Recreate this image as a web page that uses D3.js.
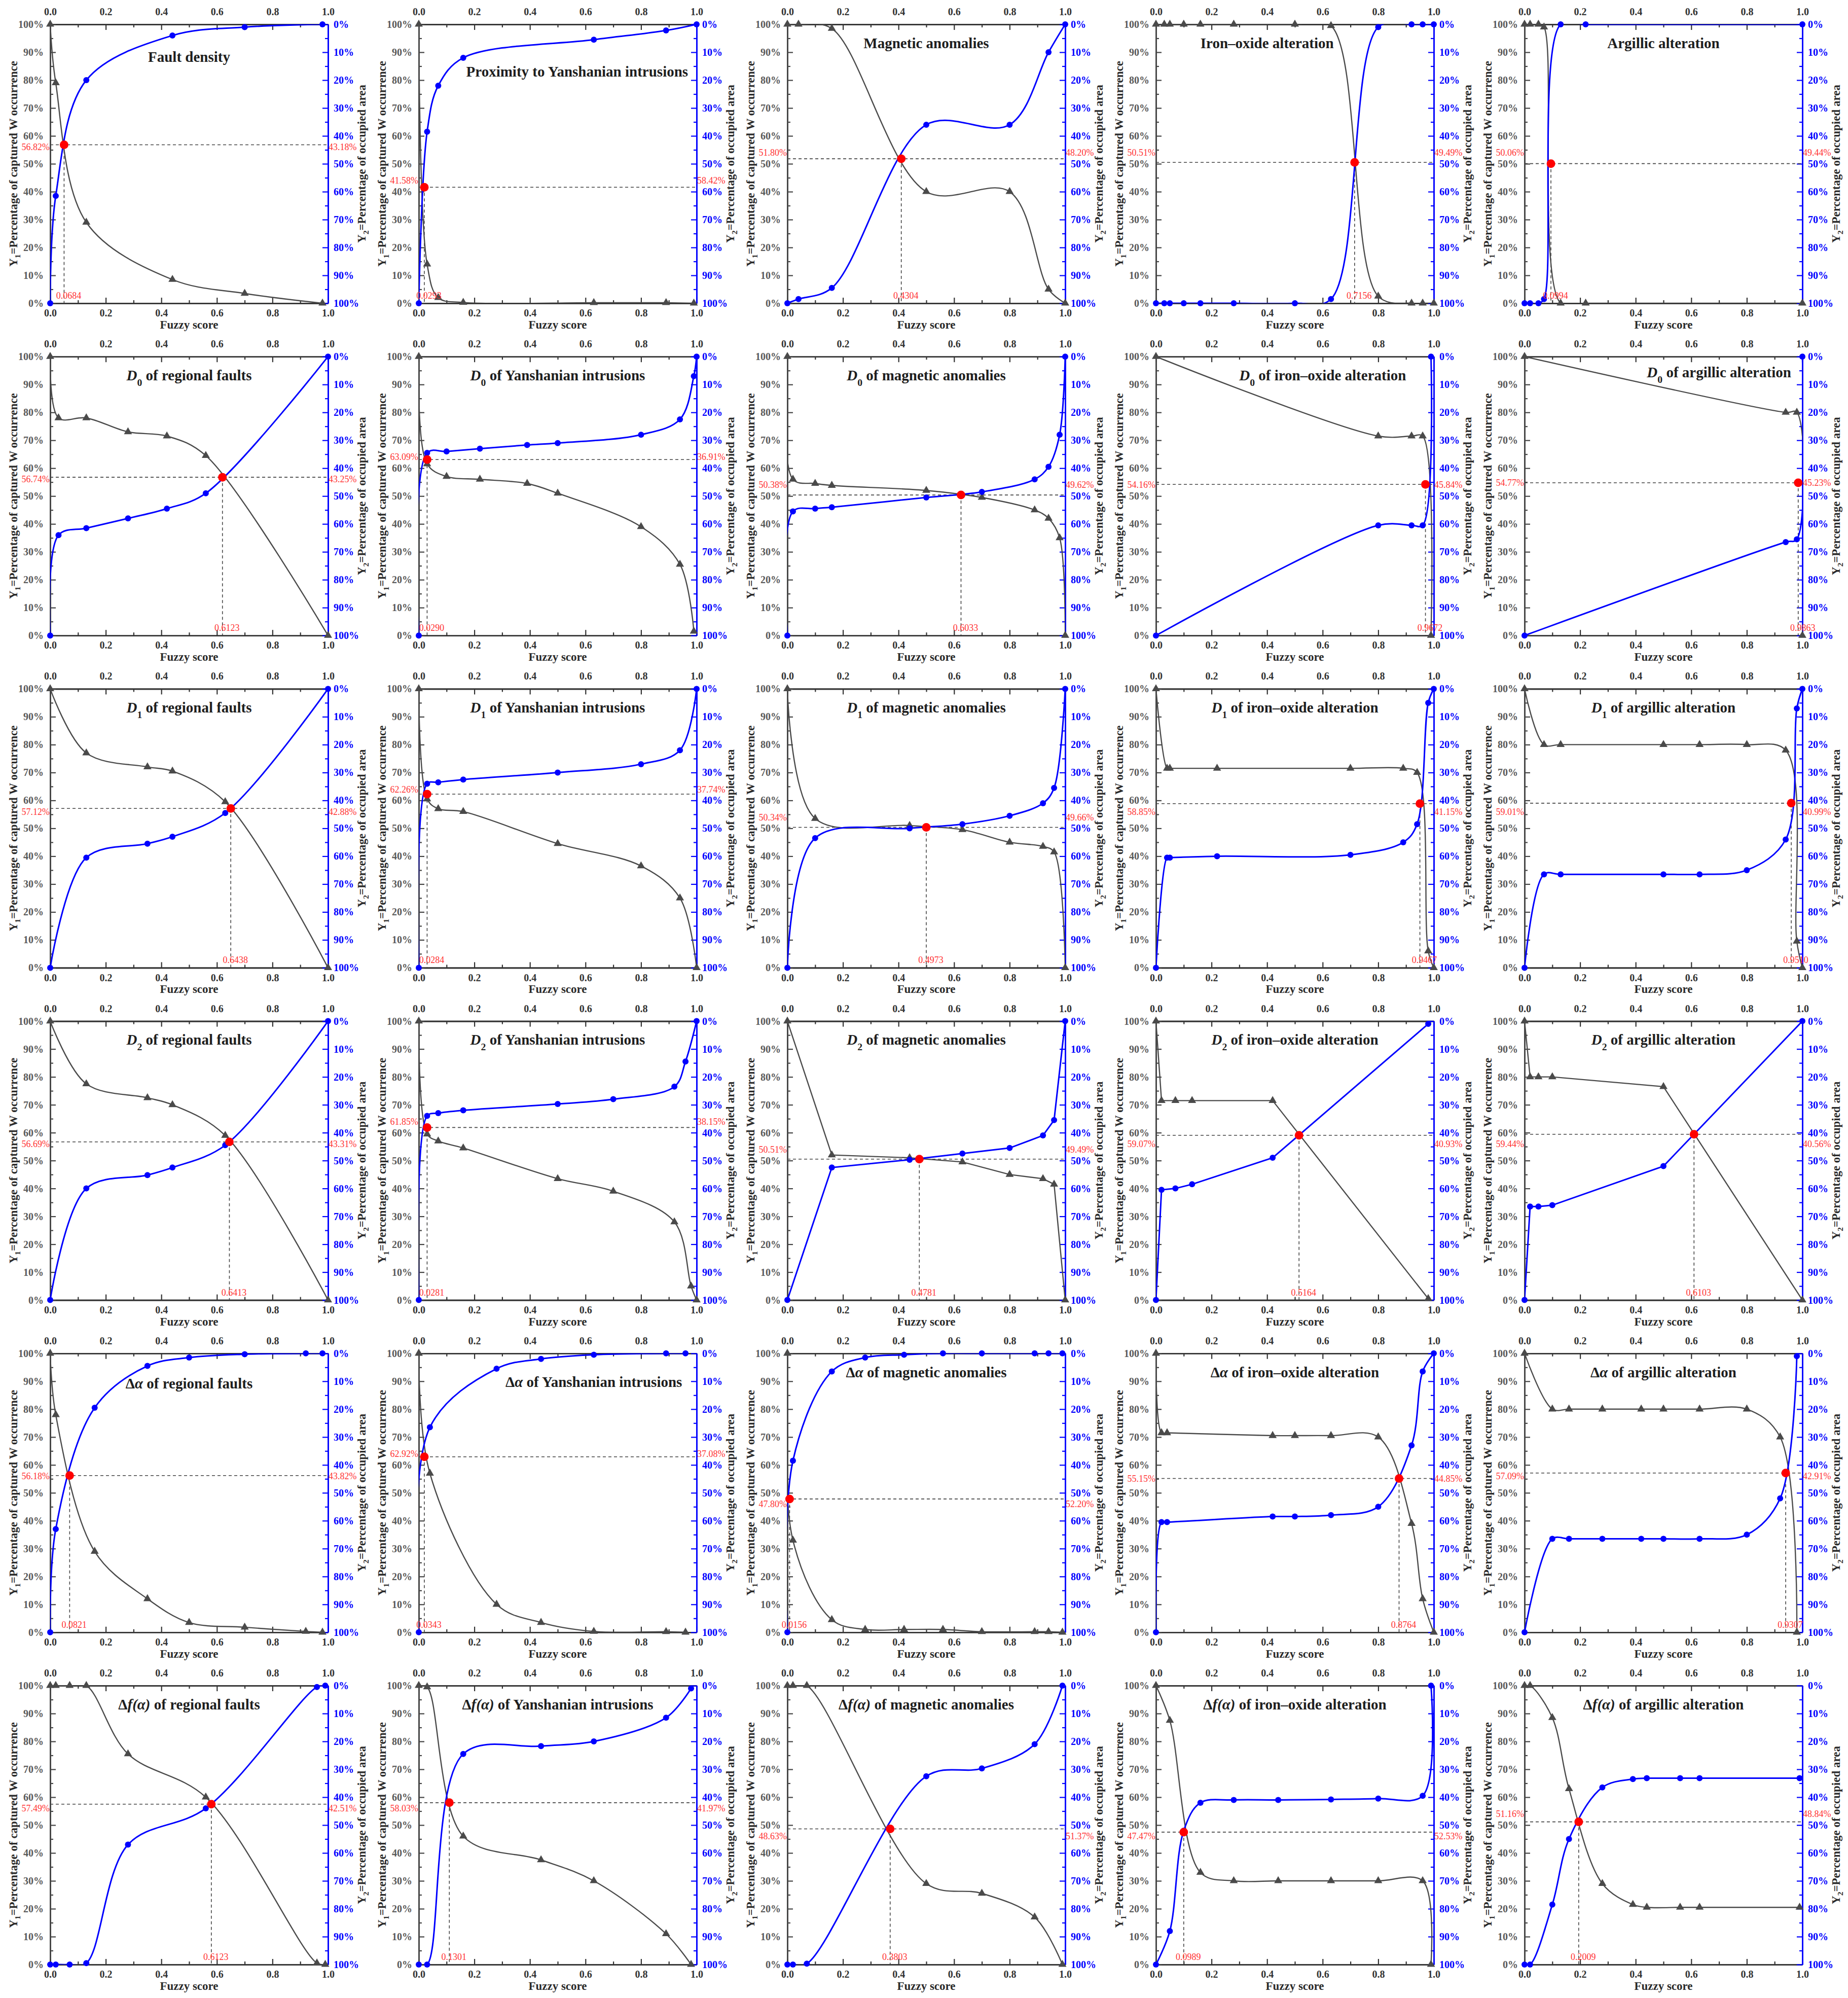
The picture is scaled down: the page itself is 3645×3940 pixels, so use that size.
<!DOCTYPE html>
<html>
<head>
<meta charset="utf-8">
<script src="https://cdnjs.cloudflare.com/ajax/libs/d3/7.8.5/d3.min.js"></script>
<style>
  body { margin: 0; background: #fff; }
  text { font-family: "Palatino Linotype", "Book Antiqua", Palatino, "Liberation Serif", "DejaVu Serif", serif; }
</style>
</head>
<body>
<div id="chart"></div>
<script>
// 패널 제목 (30개, 5열 x 6행)
const panelTitles = [
  "Fault density", "Proximity to Yanshanian intrusions", "Magnetic anomalies", "Iron–oxide alteration", "Argillic alteration",
  "<i>D</i><sub>0</sub> of regional faults", "<i>D</i><sub>0</sub> of Yanshanian intrusions", "<i>D</i><sub>0</sub> of magnetic anomalies", "<i>D</i><sub>0</sub> of iron–oxide alteration", "<i>D</i><sub>0</sub> of argillic alteration",
  "<i>D</i><sub>1</sub> of regional faults", "<i>D</i><sub>1</sub> of Yanshanian intrusions", "<i>D</i><sub>1</sub> of magnetic anomalies", "<i>D</i><sub>1</sub> of iron–oxide alteration", "<i>D</i><sub>1</sub> of argillic alteration",
  "<i>D</i><sub>2</sub> of regional faults", "<i>D</i><sub>2</sub> of Yanshanian intrusions", "<i>D</i><sub>2</sub> of magnetic anomalies", "<i>D</i><sub>2</sub> of iron–oxide alteration", "<i>D</i><sub>2</sub> of argillic alteration",
  "Δ<i>α</i> of regional faults", "Δ<i>α</i> of Yanshanian intrusions", "Δ<i>α</i> of magnetic anomalies", "Δ<i>α</i> of iron–oxide alteration", "Δ<i>α</i> of argillic alteration",
  "Δ<i>f(α)</i> of regional faults", "Δ<i>f(α)</i> of Yanshanian intrusions", "Δ<i>f(α)</i> of magnetic anomalies", "Δ<i>f(α)</i> of iron–oxide alteration", "Δ<i>f(α)</i> of argillic alteration"
];

// Y1 (captured W occurrence, %) : fuzzy score / value
const y1Score = [
  [0,0.02,0.13,0.44,0.70,0.98],
  [0,0.03,0.07,0.16,0.63,0.89,0.99],
  [0,0.04,0.16,0.5,0.8,0.94,1.0],
  [0,0.03,0.05,0.1,0.16,0.28,0.5,0.63,0.8,0.92,0.96,1.0],
  [0,0.02,0.05,0.07,0.13,0.22,1.0],
  [0,0.03,0.13,0.28,0.42,0.56,1.0],
  [0,0.03,0.1,0.22,0.39,0.5,0.8,0.94,0.99],
  [0,0.02,0.1,0.16,0.5,0.7,0.89,0.94,0.98,1.0],
  [0,0.8,0.92,0.96,0.99],
  [0,0.94,0.98,1.0],
  [0,0.13,0.35,0.44,0.63,1.0],
  [0,0.03,0.07,0.16,0.5,0.8,0.94,1.0],
  [0,0.1,0.44,0.63,0.8,0.92,0.96,1.0],
  [0,0.04,0.05,0.22,0.7,0.89,0.94,0.98,1.0],
  [0,0.07,0.13,0.5,0.63,0.8,0.94,0.98,1.0],
  [0,0.13,0.35,0.44,0.63,1.0],
  [0,0.03,0.07,0.16,0.5,0.7,0.92,0.98,1.0],
  [0,0.16,0.44,0.63,0.8,0.92,0.96,1.0],
  [0,0.02,0.07,0.13,0.42,0.98],
  [0,0.02,0.05,0.1,0.5,1.0],
  [0,0.02,0.16,0.35,0.5,0.7,0.92,0.98],
  [0,0.04,0.28,0.44,0.63,0.89,0.96],
  [0,0.02,0.16,0.28,0.42,0.56,0.7,0.89,0.94,0.99],
  [0,0.02,0.04,0.42,0.5,0.63,0.8,0.92,0.96,1.0],
  [0,0.1,0.16,0.28,0.42,0.5,0.63,0.8,0.92,0.98],
  [0,0.02,0.07,0.13,0.28,0.56,0.96,0.99],
  [0,0.03,0.16,0.44,0.63,0.89,0.98],
  [0,0.02,0.07,0.5,0.7,0.89,0.99],
  [0,0.05,0.16,0.28,0.44,0.63,0.8,0.96,0.99],
  [0,0.02,0.1,0.16,0.28,0.39,0.44,0.56,0.63,0.99]
];
const y1Value = [
  [100,79,29,8.5,3.5,0],
  [100,14,2,0.3,0.2,0.2,0],
  [100,100,98.5,40,40,5,0],
  [100,100,100,100,100,100,100,99.5,2.5,0,0,0],
  [100,100,100,99,0,0,0],
  [100,78,78,73,71.5,64.5,0],
  [100,61.5,57,56,54.5,51,39,25.5,1.5],
  [100,56,54.5,53.8,52,49.5,45,42,35,0],
  [100,71.5,71.5,71.5,0],
  [100,80,80,0],
  [100,77,72,70.5,59.5,0],
  [100,60.5,57,56,44.5,36.5,25,0],
  [100,53.5,51,49.5,45,43.5,41.5,0],
  [100,71.5,71.5,71.5,71.5,71.5,70,6,0],
  [100,80,80,80,80,80,78,9.5,0],
  [100,77.5,72.5,70,59,0],
  [100,59.5,57,54.5,43.5,39,28,5,0],
  [100,52,51,49.5,45,43.5,41.5,0],
  [100,71.5,71.5,71.5,71.5,0.5],
  [100,80,80,80,76.5,0],
  [100,78,29,12,3.5,1.8,0.3,0],
  [100,57,10,3.5,0.3,0.2,0],
  [100,33,4.5,1,1,1,0.2,0.2,0.2,0],
  [100,71.5,71.5,70.5,70.5,70.5,70,39,12,0],
  [100,80,80,80,80,80,80,80,70,0],
  [100,100,100,100,75.5,60,0.5,0],
  [100,99.5,46,37.5,30,11,0],
  [100,100,100,29,25.5,17,0],
  [100,87.5,33,30,30,30,30,30,0],
  [100,100,88.5,63,29,21.5,20.5,20.5,20.5,20.5]
];

// Y2 (occupied area, %) : fuzzy score / value
const y2Score = [
  [0,0.02,0.13,0.44,0.70,0.98],
  [0,0.03,0.07,0.16,0.63,0.89,1.0],
  [0,0.04,0.16,0.5,0.8,0.94,1.0],
  [0,0.03,0.05,0.1,0.16,0.28,0.5,0.63,0.8,0.92,0.96,1.0],
  [0,0.02,0.05,0.07,0.13,0.22,1.0],
  [0,0.03,0.13,0.28,0.42,0.56,1.0],
  [0,0.03,0.1,0.22,0.39,0.5,0.8,0.94,0.99,1.0],
  [0,0.02,0.1,0.16,0.5,0.7,0.89,0.94,0.98,1.0],
  [0,0.8,0.92,0.96,0.99],
  [0,0.94,0.98,1.0],
  [0,0.13,0.35,0.44,0.63,1.0],
  [0,0.03,0.07,0.16,0.5,0.8,0.94,1.0],
  [0,0.1,0.44,0.63,0.8,0.92,0.96,1.0],
  [0,0.04,0.05,0.22,0.7,0.89,0.94,0.98,1.0],
  [0,0.07,0.13,0.5,0.63,0.8,0.94,0.98,1.0],
  [0,0.13,0.35,0.44,0.63,1.0],
  [0,0.03,0.07,0.16,0.5,0.7,0.92,0.96,1.0],
  [0,0.16,0.44,0.63,0.8,0.92,0.96,1.0],
  [0,0.02,0.07,0.13,0.42,0.98],
  [0,0.02,0.05,0.1,0.5,1.0],
  [0,0.02,0.16,0.35,0.5,0.7,0.92,0.98],
  [0,0.04,0.28,0.44,0.63,0.89,0.96],
  [0,0.02,0.16,0.28,0.42,0.56,0.7,0.89,0.94,0.99],
  [0,0.02,0.04,0.42,0.5,0.63,0.8,0.92,0.96,1.0],
  [0,0.1,0.16,0.28,0.42,0.5,0.63,0.8,0.92,0.98],
  [0,0.02,0.07,0.13,0.28,0.56,0.96,0.99],
  [0,0.03,0.16,0.44,0.63,0.89,0.98],
  [0,0.02,0.07,0.5,0.7,0.89,0.99],
  [0,0.05,0.1,0.16,0.28,0.44,0.63,0.8,0.96,0.99],
  [0,0.02,0.1,0.16,0.28,0.39,0.44,0.56,0.63,0.99]
];
const y2Value = [
  [100,61.5,20,4,1,0],
  [100,38.5,22,12,5.5,2.2,0],
  [100,98.5,94.5,36,36,10,0],
  [100,100,100,100,100,100,100,98.5,1,0,0,0],
  [100,100,100,98.5,0,0,0],
  [100,64,61.5,58,54.5,49,0],
  [100,34.5,34,33,31.7,31,28,22.5,7,0],
  [100,55.5,54.5,54,50.5,48.5,44,39.5,28,0],
  [100,60.5,60.5,60.5,0],
  [100,66.5,65.5,0],
  [100,60.5,55.5,53,44.5,0],
  [100,34,33.5,32.5,30,27,22,0],
  [100,53.5,50,48.5,45.5,41,35.5,0],
  [100,60.5,60.5,60,59.5,55,48.5,5,0],
  [100,66.5,66.5,66.5,66.5,65,54,7,0],
  [100,60,55.2,52.5,44.5,0],
  [100,34,33,32,29.7,28,23.5,14.5,0],
  [100,52.5,49.7,47.5,45.5,41,35.5,0],
  [100,60.5,60,58.5,49,1],
  [100,66.5,66.5,66,52,0],
  [100,63,19.5,4.5,1.5,0.3,0,0],
  [100,26.5,5.5,2,0.5,0,0],
  [100,38.5,6.5,1.5,0.5,0,0,0,0,0],
  [100,60.5,60.5,58.5,58.5,58,55,33,6.5,0],
  [100,66.5,66.5,66.5,66.5,66.5,66.5,65,52,1],
  [100,100,100,99.5,57,44,0.5,0],
  [100,100,24.5,21.7,20,11.5,1],
  [100,100,99.7,32.5,29.7,21,0],
  [100,88,52,42,41,41,40.8,40.5,39.5,0],
  [100,100,78.5,55,36.5,33.5,33.2,33.2,33.2,33.2]
];

// 교차점 (fuzzy score, Y1 %) 과 라벨
const crossScore = [0.05,0.02,0.41,0.715,0.095, 0.62,0.03,0.625,0.97,0.985, 0.65,0.03,0.5,0.95,0.96, 0.645,0.03,0.475,0.515,0.61, 0.07,0.02,0.008,0.875,0.94, 0.58,0.11,0.37,0.1,0.195];
const crossY1 = [56.82,41.58,51.80,50.51,50.06, 56.74,63.09,50.38,54.16,54.77, 57.12,62.26,50.34,58.85,59.01, 56.69,61.85,50.51,59.07,59.44, 56.18,62.92,47.80,55.15,57.09, 57.49,58.03,48.63,47.47,51.16];
const crossY1Label = ["56.82%","41.58%","51.80%","50.51%","50.06%","56.74%","63.09%","50.38%","54.16%","54.77%","57.12%","62.26%","50.34%","58.85%","59.01%","56.69%","61.85%","50.51%","59.07%","59.44%","56.18%","62.92%","47.80%","55.15%","57.09%","57.49%","58.03%","48.63%","47.47%","51.16%"];
const crossY2Label = ["43.18%","58.42%","48.20%","49.49%","49.44%","43.25%","36.91%","49.62%","45.84%","45.23%","42.88%","37.74%","49.66%","41.15%","40.99%","43.31%","38.15%","49.49%","40.93%","40.56%","43.82%","37.08%","52.20%","44.85%","42.91%","42.51%","41.97%","51.37%","52.53%","48.84%"];
const crossScoreLabel = ["0.0684","0.0293","0.4304","0.7156","0.0994","0.6123","0.0290","0.6033","0.9672","0.9863","0.6438","0.0284","0.4973","0.9467","0.9510","0.6413","0.0281","0.4781","0.5164","0.6103","0.0821","0.0343","0.0156","0.8764","0.9307","0.6123","0.1301","0.3803","0.0989","0.2009"];

const scoreTicks = [0, 0.2, 0.4, 0.6, 0.8, 1.0];
const scoreMinor = [0.1, 0.3, 0.5, 0.7, 0.9];
const pctTicks = d3.range(0, 101, 10);
const pctMinor = d3.range(5, 100, 10);

// 레이아웃
const width = 3645, height = 3940;
const plotW = 548, plotH = 550;
const colX0 = 99, colStep = 727, rowY0 = 48, rowStep = 655.2;
// 제목 위치 (플롯 폭/높이 비율)
const titlePosX = {1: 0.57, 3: 0.40, 8: 0.60, 9: 0.70, 21: 0.63};
const titlePosY = {0: 0.135, 1: 0.187, 9: 0.075, 20: 0.125, 21: 0.12};
// 꺾은선(직선)으로 그려진 패널
const straightPanels = new Set([17, 18, 19]);

const blue = "#0000ff", grey = "#4a4a4a", red = "#ff0000", redText = "#ff3333";

const svg = d3.select("#chart").append("svg")
  .attr("width", width).attr("height", height)
  .style("background", "#fff");

// <i>, <sub> 태그가 있는 문자열을 tspan 으로
function richText(sel, str) {
  const parts = str.split(/(<i>.*?<\/i>|<sub>.*?<\/sub>)/).filter(s => s.length);
  parts.forEach(p => {
    let m;
    if ((m = p.match(/^<i>(.*)<\/i>$/))) {
      sel.append("tspan").style("font-style", "italic").text(m[1]);
    } else if ((m = p.match(/^<sub>(.*)<\/sub>$/))) {
      sel.append("tspan").attr("baseline-shift", "sub").style("font-size", "68%").text(m[1]);
    } else {
      sel.append("tspan").text(p);
    }
  });
}

const x = d3.scaleLinear().domain([0, 1]).range([0, plotW]);
const yL = d3.scaleLinear().domain([0, 100]).range([plotH, 0]);
const yR = d3.scaleLinear().domain([0, 100]).range([0, plotH]);
const smooth = d3.curveCatmullRom.alpha(0.5);

// 빨간 라벨이 축 눈금 글자와 겹치지 않도록 세로 위치 조정
function labelY(v) {
  const t = Math.round(v / 10) * 10;
  const d = v - t;
  if (Math.abs(d) < 4) return yL(t) + (d >= 0 ? -22 : 22);
  return yL(v);
}

function styleAxis(g, color, labelColor) {
  g.select(".domain").attr("stroke", color).attr("stroke-width", 2.6);
  g.selectAll(".tick line").attr("stroke", color).attr("stroke-width", 2.2);
  g.selectAll(".tick text")
    .attr("fill", labelColor)
    .style("font-size", "20px")
    .style("font-weight", "bold");
}

panelTitles.forEach((title, i) => {
  const r = Math.floor(i / 5), c = i % 5;
  const g = svg.append("g")
    .attr("transform", `translate(${colX0 + c * colStep}, ${rowY0 + r * rowStep})`);

  g.append("clipPath").attr("id", "clip" + i)
    .append("rect").attr("width", plotW).attr("height", plotH);

  // 축
  g.append("g").attr("transform", `translate(0,${plotH})`)
    .call(d3.axisBottom(x).tickValues(scoreMinor).tickSize(-6).tickSizeOuter(0).tickFormat(""))
    .call(s => styleAxis(s, "#333", "#333"));
  g.append("g").attr("transform", `translate(0,${plotH})`)
    .call(d3.axisBottom(x).tickValues(scoreTicks).tickSize(-11).tickSizeOuter(0).tickPadding(12).tickFormat(d3.format(".1f")))
    .call(s => styleAxis(s, "#333", "#333"));
  g.append("g").call(d3.axisTop(x).tickValues(scoreMinor).tickSize(-6).tickSizeOuter(0).tickFormat(""))
    .call(s => styleAxis(s, "#333", "#333"));
  g.append("g")
    .call(d3.axisTop(x).tickValues(scoreTicks).tickSize(-11).tickSizeOuter(0).tickPadding(18).tickFormat(d3.format(".1f")))
    .call(s => styleAxis(s, "#333", "#333"));

  g.append("g").call(d3.axisLeft(yL).tickValues(pctMinor).tickSize(-6).tickSizeOuter(0).tickFormat(""))
    .call(s => styleAxis(s, "#444", "#555"));
  g.append("g")
    .call(d3.axisLeft(yL).tickValues(pctTicks).tickSize(-11).tickSizeOuter(0).tickPadding(13).tickFormat(d => d + "%"))
    .call(s => styleAxis(s, "#444", "#5a5a5a"));

  g.append("g").attr("transform", `translate(${plotW},0)`)
    .call(d3.axisRight(yR).tickValues(pctMinor).tickSize(-6).tickSizeOuter(0).tickFormat(""))
    .call(s => styleAxis(s, blue, blue));
  g.append("g").attr("transform", `translate(${plotW},0)`)
    .call(d3.axisRight(yR).tickValues(pctTicks).tickSize(-11).tickSizeOuter(0).tickPadding(11).tickFormat(d => d + "%"))
    .call(s => styleAxis(s, blue, blue));

  // 축 제목
  g.append("text")
    .attr("transform", `translate(-73,${plotH / 2}) rotate(-90)`)
    .attr("text-anchor", "middle").attr("dominant-baseline", "central")
    .attr("fill", "#2a2a2a").style("font-size", "23px").style("font-weight", "bold")
    .call(s => richText(s, "Y<sub>1</sub>=Percentage of captured W occurrence"));
  g.append("text")
    .attr("transform", `translate(${plotW + 66},${plotH / 2}) rotate(-90)`)
    .attr("text-anchor", "middle").attr("dominant-baseline", "central")
    .attr("fill", "#2a2a2a").style("font-size", "23px").style("font-weight", "bold")
    .call(s => richText(s, "Y<sub>2</sub>=Percentage of occupied area"));
  g.append("text")
    .attr("x", plotW / 2).attr("y", plotH + 50)
    .attr("text-anchor", "middle")
    .attr("fill", "#2a2a2a").style("font-size", "23px").style("font-weight", "bold")
    .text("Fuzzy score");

  // 패널 제목
  const tx = titlePosX[i] !== undefined ? titlePosX[i] : 0.5;
  const ty = titlePosY[i] !== undefined ? titlePosY[i] : 0.085;
  g.append("text")
    .attr("x", tx * plotW).attr("y", ty * plotH)
    .attr("text-anchor", "middle")
    .attr("fill", "#1e1e1e").style("font-size", "29px").style("font-weight", "bold")
    .call(s => richText(s, title));

  // 교차점 점선
  const cx = x(crossScore[i]), cy = yL(crossY1[i]);
  g.append("line")
    .attr("x1", 0).attr("x2", plotW).attr("y1", cy).attr("y2", cy)
    .attr("stroke", "#444").attr("stroke-width", 1.6).attr("stroke-dasharray", "6,5");
  g.append("line")
    .attr("x1", cx).attr("x2", cx).attr("y1", cy).attr("y2", plotH)
    .attr("stroke", "#444").attr("stroke-width", 1.6).attr("stroke-dasharray", "6,5");

  // 선
  const ptsY1 = y1Score[i].map((s, k) => [s, y1Value[i][k]]);
  const ptsY2 = y2Score[i].map((s, k) => [s, y2Value[i][k]]);
  const curve = straightPanels.has(i) ? d3.curveLinear : smooth;

  const lines = g.append("g").attr("clip-path", `url(#clip${i})`);
  lines.append("path")
    .datum(ptsY1)
    .attr("fill", "none").attr("stroke", grey).attr("stroke-width", 2.4)
    .attr("d", d3.line().x(d => x(d[0])).y(d => yL(d[1])).curve(curve));
  lines.append("path")
    .datum(ptsY2)
    .attr("fill", "none").attr("stroke", blue).attr("stroke-width", 3)
    .attr("d", d3.line().x(d => x(d[0])).y(d => yR(d[1])).curve(curve));

  // 마커
  g.selectAll(".tri")
    .data(ptsY1)
    .enter().append("path")
    .attr("class", "tri")
    .attr("transform", d => `translate(${x(d[0])},${yL(d[1])})`)
    .attr("d", d3.symbol().type(d3.symbolTriangle).size(110))
    .attr("fill", grey);
  g.selectAll(".dot")
    .data(ptsY2)
    .enter().append("circle")
    .attr("class", "dot")
    .attr("cx", d => x(d[0])).attr("cy", d => yR(d[1]))
    .attr("r", 6).attr("fill", blue);

  g.append("circle")
    .attr("cx", cx).attr("cy", cy).attr("r", 8.5).attr("fill", red);

  // 교차점 라벨
  const ly = labelY(crossY1[i]);
  g.append("text")
    .attr("x", -1).attr("y", ly).attr("dy", "0.35em")
    .attr("text-anchor", "end").attr("fill", redText).style("font-size", "18px")
    .text(crossY1Label[i]);
  g.append("text")
    .attr("x", plotW + 1).attr("y", ly).attr("dy", "0.35em")
    .attr("text-anchor", "start").attr("fill", redText).style("font-size", "18px")
    .text(crossY2Label[i]);
  g.append("text")
    .attr("x", cx + 9).attr("y", plotH - 9)
    .attr("text-anchor", "middle").attr("fill", redText).style("font-size", "18px")
    .text(crossScoreLabel[i]);
});
</script>
</body>
</html>
